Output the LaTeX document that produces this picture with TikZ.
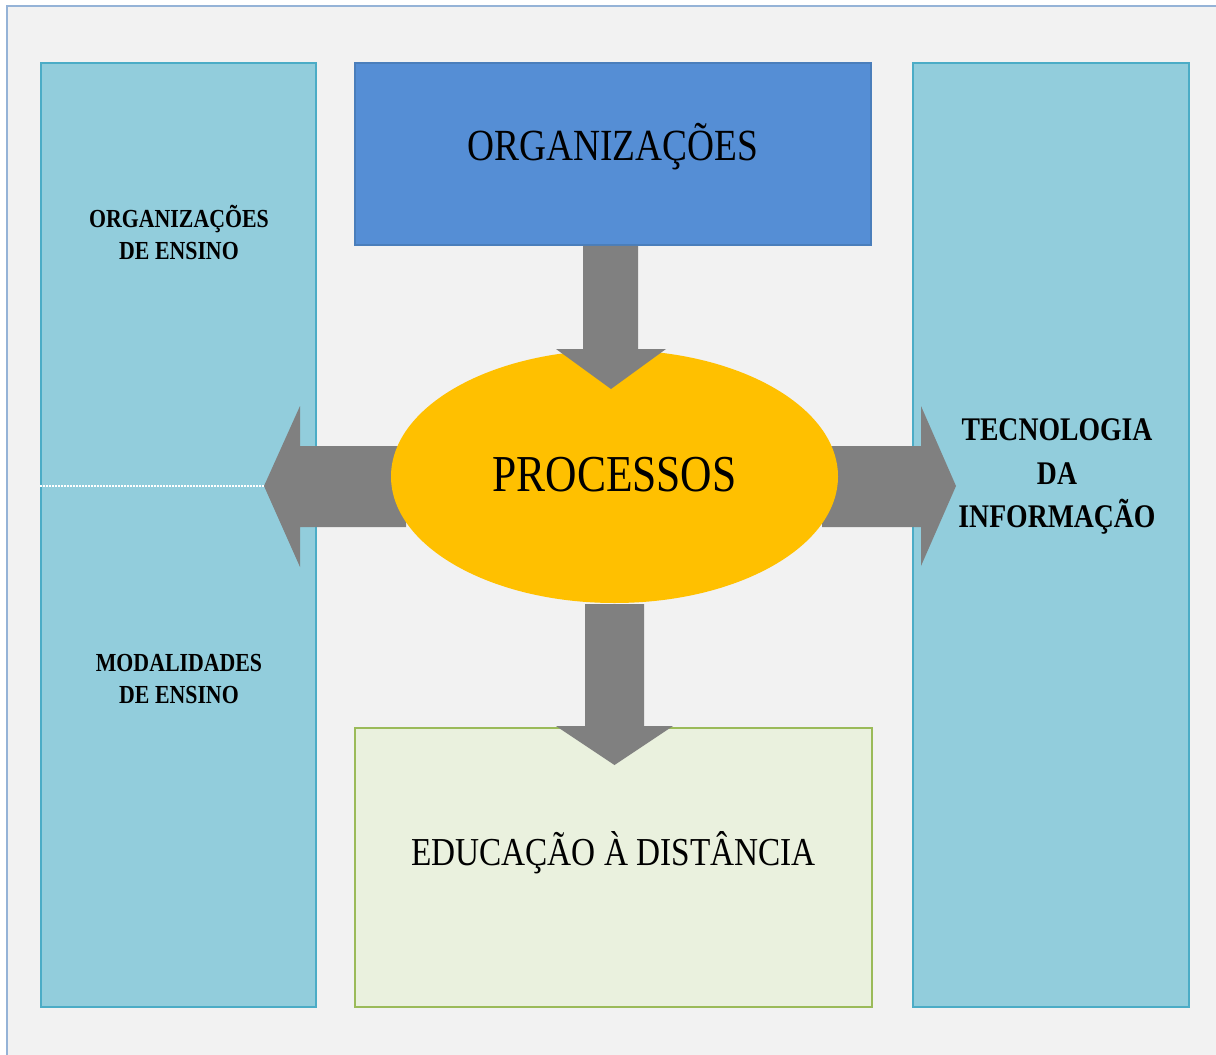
\documentclass[tikz,border=0pt]{standalone}
\usepackage{fontspec}
\setmainfont{Liberation Serif}[FakeStretch=0.84]
\definecolor{pagebg}{HTML}{F2F2F2}
\definecolor{framec}{HTML}{95B3D7}
\definecolor{colfill}{HTML}{92CDDC}
\definecolor{coldraw}{HTML}{4BACC6}
\definecolor{topfill}{HTML}{558ED5}
\definecolor{topdraw}{HTML}{4A7EBB}
\definecolor{botfill}{HTML}{EAF1DE}
\definecolor{botdraw}{HTML}{9BBB59}
\definecolor{ellfill}{HTML}{FFC000}
\definecolor{arrowc}{HTML}{808080}
\tikzset{
  colbox/.style={rectangle, fill=colfill, draw=coldraw, line width=2pt, inner sep=0pt},
  topbox/.style={rectangle, fill=topfill, draw=topdraw, line width=1.5pt, inner sep=0pt},
  botbox/.style={rectangle, fill=botfill, draw=botdraw, line width=2pt, inner sep=0pt},
  procell/.style={ellipse, fill=ellfill, inner sep=0pt},
  blockarrow/.style={fill=arrowc},
  sidelabel/.style={anchor=base, inner sep=0pt, font=\bfseries\fontsize{26}{30}\selectfont},
  rightlabel/.style={anchor=base, inner sep=0pt, font=\bfseries\fontsize{33}{38}\selectfont},
}
\usetikzlibrary{shapes.geometric}
\begin{document}
\begin{tikzpicture}[x=1pt,y=-1pt]
\useasboundingbox (0,0) rectangle (1216,1055);
\fill[white] (0,0) rectangle (1216,1055);
\fill[pagebg] (7,6) rectangle (1224,1063);
\draw[framec, line width=2pt] (7,6) rectangle (1224,1063);

% columns
\node[colbox, minimum width=275pt, minimum height=944pt] (leftcol) at (178.5,535) {};
\node[colbox, minimum width=276pt, minimum height=944pt] (rightcol) at (1051,535) {};

% top and bottom boxes
\node[topbox, minimum width=516pt, minimum height=182pt, text height=12pt, text depth=0pt,
      font=\fontsize{44.5}{50}\selectfont] (org) at (613,154) {ORGANIZAÇÕES};
\node[botbox, minimum width=517pt, minimum height=279pt, text height=0pt, text depth=5pt,
      font=\fontsize{39.6}{46}\selectfont] (ead) at (613.5,867.5) {EDUCAÇÃO À DISTÂNCIA};

% left and right arrows (under ellipse)
\fill[blockarrow] (406,446) -- (300,446) -- (300,406) -- (264,486) -- (300,567) -- (300,527) -- (406,527) -- cycle;
\fill[blockarrow] (822,446) -- (921,446) -- (921,406) -- (956,486) -- (921,566) -- (921,527) -- (822,527) -- cycle;

% ellipse
\node[procell, minimum width=447pt, minimum height=253pt, text height=29pt, text depth=0pt,
      font=\fontsize{51.8}{58}\selectfont] (proc) at (614.5,476.5) {PROCESSOS};

% top and bottom arrows
\fill[blockarrow] (org.south -| 583,0) -- (org.south -| 638,0) -- (638,349) -- (666,349) -- (611,389) -- (556,349) -- (583,349) -- cycle;
\fill[blockarrow] (585,604) -- (644,604) -- (644,726) -- (673,726) -- (614.5,765) -- (556,726) -- (585,726) -- cycle;

% dotted divider
\coordinate (divend) at (264,486);
\draw[white, dash pattern=on 1.5pt off 1.5pt, line width=1.3pt] (leftcol.west |- divend) -- (divend);

% labels
\node[sidelabel] (oe1) at (179,227) {ORGANIZAÇÕES};
\node[sidelabel] (oe2) at (179,259) {DE ENSINO};
\node[sidelabel] (me1) at (179,671) {MODALIDADES};
\node[sidelabel] (me2) at (179,703) {DE ENSINO};
\node[rightlabel] (ti1) at (1057,440) {TECNOLOGIA};
\node[rightlabel] (ti2) at (1057,484) {DA};
\node[rightlabel] (ti3) at (1057,527) {INFORMAÇÃO};
\end{tikzpicture}
\end{document}
